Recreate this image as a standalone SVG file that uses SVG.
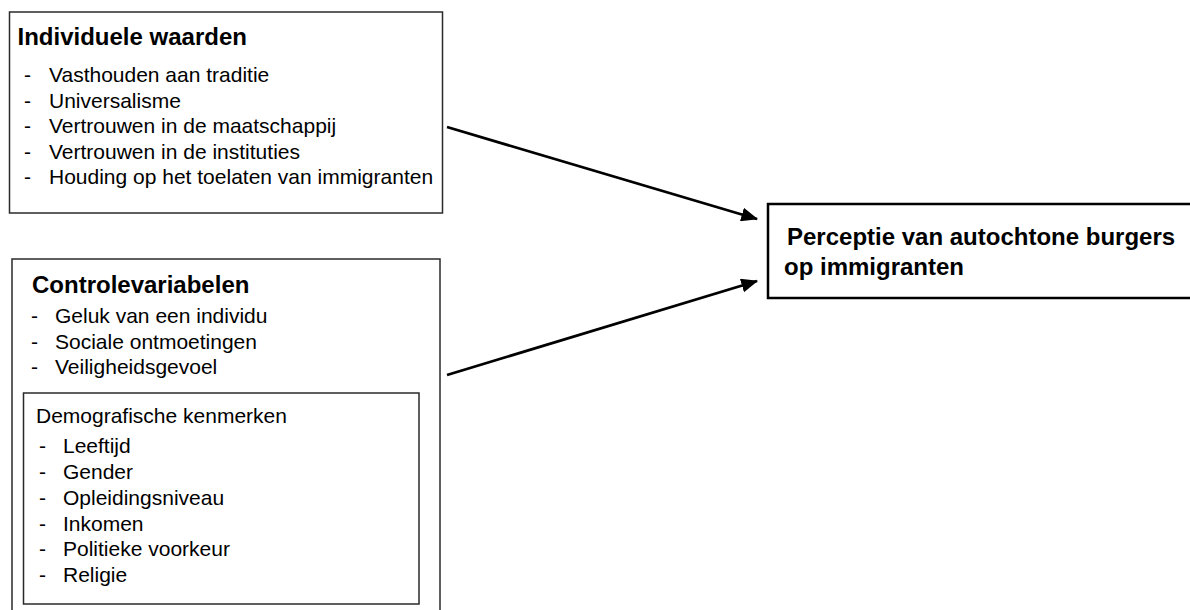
<svg xmlns="http://www.w3.org/2000/svg" width="1190" height="610" viewBox="0 0 1190 610">
<defs>
<style>
.box{fill:#fff;stroke:#2a2a2a;stroke-width:1.5}
.main{fill:#fff;stroke:#000;stroke-width:2.5}
.t{font-family:"Liberation Sans",Arial,Helvetica,sans-serif;font-size:21px;fill:#000}
.b{font-family:"Liberation Sans",Arial,Helvetica,sans-serif;font-size:24px;font-weight:bold;fill:#000}
.conn{stroke:#000;stroke-width:2.8;fill:none;marker-end:url(#ah)}
</style>
<marker id="ah" markerWidth="6" markerHeight="5" refX="5.6" refY="2.5" orient="auto" markerUnits="strokeWidth" viewBox="0 0 6 5">
<path d="M0,0 L6,2.5 L0,5 Z" fill="#000"/>
</marker>
</defs>
<rect width="1190" height="610" fill="#fff"/>
<g id="individuele-waarden">
<rect class="box" x="9.5" y="12" width="433" height="201"/>
<text class="b" x="17.5" y="45">Individuele waarden</text>
<g class="t">
<text x="24" y="82">-</text><text x="49" y="82">Vasthouden aan traditie</text>
<text x="24" y="107.5">-</text><text x="49" y="107.5">Universalisme</text>
<text x="24" y="133">-</text><text x="49" y="133">Vertrouwen in de maatschappij</text>
<text x="24" y="158.5">-</text><text x="49" y="158.5">Vertrouwen in de instituties</text>
<text x="24" y="184">-</text><text x="49" y="184">Houding op het toelaten van immigranten</text>
</g>
</g>
<g id="controlevariabelen">
<rect class="box" x="12" y="259" width="428" height="360"/>
<text class="b" x="32" y="293">Controlevariabelen</text>
<g class="t">
<text x="31" y="323">-</text><text x="55" y="323">Geluk van een individu</text>
<text x="31" y="349">-</text><text x="55" y="349">Sociale ontmoetingen</text>
<text x="31" y="374">-</text><text x="55" y="374">Veiligheidsgevoel</text>
</g>
</g>
<g id="demografische-kenmerken">
<rect class="box" x="23.5" y="393" width="395.5" height="211"/>
<text class="t" x="36" y="423">Demografische kenmerken</text>
<g class="t">
<text x="39" y="453">-</text><text x="63" y="453">Leeftijd</text>
<text x="39" y="479">-</text><text x="63" y="479">Gender</text>
<text x="39" y="505">-</text><text x="63" y="505">Opleidingsniveau</text>
<text x="39" y="531">-</text><text x="63" y="531">Inkomen</text>
<text x="39" y="556">-</text><text x="63" y="556">Politieke voorkeur</text>
<text x="39" y="582">-</text><text x="63" y="582">Religie</text>
</g>
</g>
<g id="perceptie">
<rect class="main" x="768" y="204" width="430" height="94"/>
<text class="b" x="787" y="245">Perceptie van autochtone burgers</text>
<text class="b" x="784" y="275">op immigranten</text>
</g>
<g id="connectors">
<line class="conn" x1="447" y1="127" x2="757" y2="219"/>
<line class="conn" x1="447" y1="375" x2="757" y2="281"/>
</g>
</svg>
